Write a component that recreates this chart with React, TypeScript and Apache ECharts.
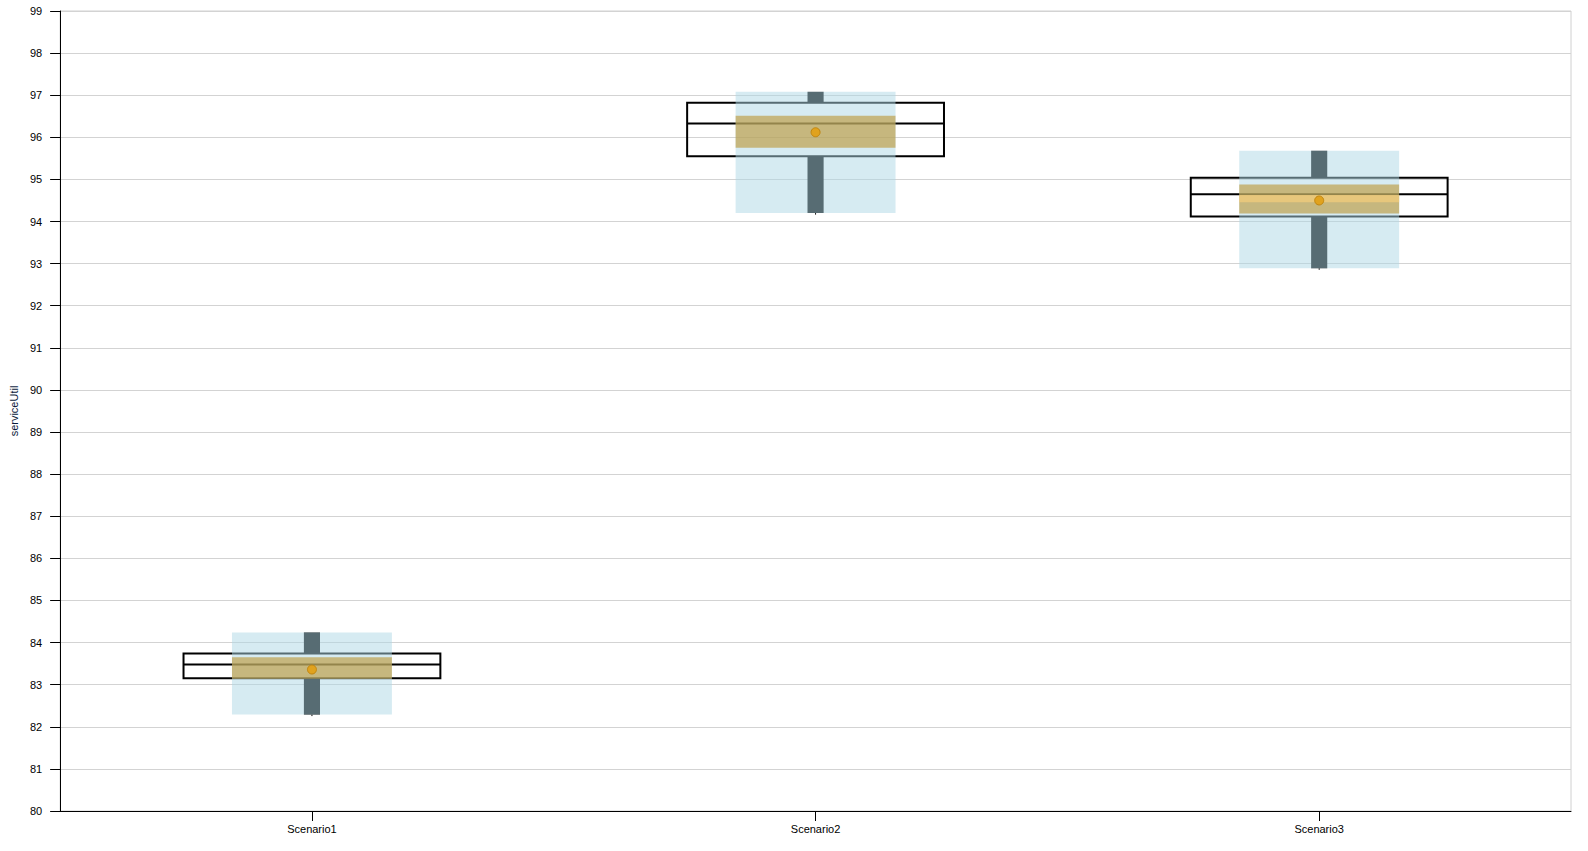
import React, { useEffect, useRef } from "react";
import * as echarts from "echarts";

const categories = ["Scenario1", "Scenario2", "Scenario3"];
const minVals = [82.29, 94.2, 92.89];
const maxVals = [84.24, 97.08, 95.68];
const q1Vals = [83.15, 95.55, 94.12];
const q3Vals = [83.74, 96.82, 95.04];
const medianVals = [83.48, 96.33, 94.65];
const meanVals = [83.36, 96.12, 94.5];
const ciLowVals = [83.14, 95.75, 94.19];
const ciHighVals = [83.65, 96.51, 94.88];
const hlLowVals: (number | null)[] = [null, null, 94.46];
const hlHighVals: (number | null)[] = [null, null, 94.63];
const yTicks = { min: 80, max: 99, interval: 1 };

const FONT = "Liberation Sans";

export default function App() {
  const ref = useRef<HTMLDivElement>(null);
  useEffect(() => {
    if (!ref.current) return;
    const chart = echarts.init(ref.current, undefined, { renderer: "svg" });

    const renderItem = (params: any, api: any) => {
      const i = params.dataIndex;
      const band = api.size([1, 0])[0];
      const cx = api.coord([i, minVals[i]])[0];
      const y = (v: number) => api.coord([i, v])[1];
      const boxW = band * 0.51;
      const blueW = band * 0.3175;
      const whiskW = band * 0.032;
      const children: any[] = [];
      // box outline
      children.push({
        type: "rect",
        shape: { x: cx - boxW / 2, y: y(q3Vals[i]), width: boxW, height: y(q1Vals[i]) - y(q3Vals[i]) },
        style: { fill: "none", stroke: "#000", lineWidth: 2 },
      });
      children.push({
        type: "line",
        shape: { x1: cx - boxW / 2, y1: y(medianVals[i]), x2: cx + boxW / 2, y2: y(medianVals[i]) },
        style: { stroke: "#000", lineWidth: 2 },
      });
      // whiskers as thick bars
      children.push({
        type: "rect",
        shape: { x: cx - whiskW / 2, y: y(maxVals[i]), width: whiskW, height: y(q3Vals[i]) - y(maxVals[i]) },
        style: { fill: "#000" },
      });
      children.push({
        type: "rect",
        shape: { x: cx - whiskW / 2, y: y(q1Vals[i]), width: whiskW, height: y(minVals[i]) - y(q1Vals[i]) },
        style: { fill: "#000" },
      });
      children.push({
        type: "line",
        shape: { x1: cx, y1: y(minVals[i]), x2: cx, y2: y(minVals[i]) + 1.5 },
        style: { stroke: "#000", lineWidth: 1 },
      });
      // range rect
      children.push({
        type: "rect",
        shape: { x: cx - blueW / 2, y: y(maxVals[i]), width: blueW, height: y(minVals[i]) - y(maxVals[i]) },
        style: { fill: "#ADD8E6", opacity: 0.5 },
      });
      // CI band
      children.push({
        type: "rect",
        shape: { x: cx - blueW / 2, y: y(ciHighVals[i]), width: blueW, height: y(ciLowVals[i]) - y(ciHighVals[i]) },
        style: { fill: "#ba9431", opacity: 0.6 },
      });
      const hl = hlLowVals[i];
      const hh = hlHighVals[i];
      if (hl != null && hh != null) {
        children.push({
          type: "rect",
          shape: { x: cx - blueW / 2, y: y(hh), width: blueW, height: y(hl) - y(hh) },
          style: { fill: "#f5cd7c", opacity: 0.7 },
        });
      }
      // mean dot
      children.push({
        type: "circle",
        shape: { cx, cy: y(meanVals[i]), r: 4.5 },
        style: { fill: "#e0a21e", stroke: "#c08510", lineWidth: 1 },
      });
      return { type: "group", children };
    };

    const data = categories.map((_, i) => [i, minVals[i], maxVals[i]]);

    chart.setOption({
      animation: false,
      textStyle: { fontFamily: FONT },
      grid: { left: 58, right: 17, top: 11, bottom: 40, show: true, borderColor: "#d0d0d0", borderWidth: 1 },
      xAxis: {
        type: "category",
        data: categories,
        boundaryGap: true,
        axisLine: { lineStyle: { color: "#000", width: 1 } },
        axisTick: { show: true, alignWithLabel: true, length: 10, lineStyle: { color: "#000" } },
        axisLabel: { color: "#000", fontSize: 11, fontFamily: FONT, margin: 12 },
        splitLine: { show: false },
      },
      yAxis: {
        type: "value",
        min: yTicks.min,
        max: yTicks.max,
        interval: yTicks.interval,
        name: "serviceUtil",
        nameLocation: "middle",
        nameGap: 40,
        nameTextStyle: { color: "#0a1a3a", fontSize: 11, fontFamily: FONT },
        axisLine: { show: true, lineStyle: { color: "#000", width: 1 } },
        axisTick: { show: true, length: 10, lineStyle: { color: "#000" } },
        axisLabel: { color: "#000", fontSize: 11, fontFamily: FONT, margin: 18 },
        splitLine: { show: true, lineStyle: { color: "#d3d3d3", width: 1 } },
      },
      series: [
        {
          type: "custom",
          renderItem,
          data,
          encode: { x: 0, y: [1, 2] },
          clip: false,
        },
      ],
    });
    return () => chart.dispose();
  }, []);

  return (
    <div
      ref={ref}
      style={{ position: "fixed", left: 0, top: 0, width: 1588, height: 851, background: "#fff" }}
    />
  );
}
